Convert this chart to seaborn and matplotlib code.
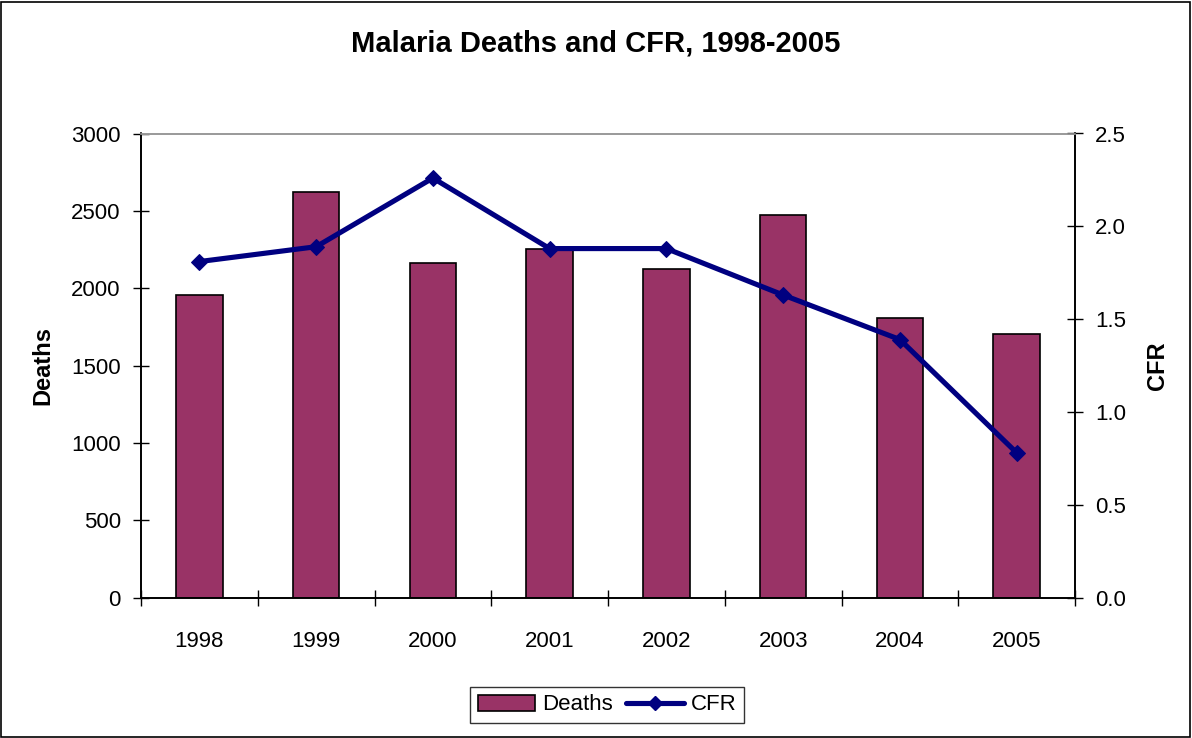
import matplotlib
matplotlib.use("Agg")
import matplotlib.pyplot as plt
import seaborn as sns
import pandas as pd
import numpy as np
from matplotlib.patches import Rectangle, Patch
from matplotlib.lines import Line2D

years = ["1998", "1999", "2000", "2001", "2002", "2003", "2004", "2005"]
deaths = [1955, 2620, 2162, 2252, 2122, 2475, 1806, 1706]
cfr = [1.81, 1.89, 2.26, 1.88, 1.88, 1.63, 1.39, 0.78]
left_ticks = [0, 500, 1000, 1500, 2000, 2500, 3000]
right_ticks = [0.0, 0.5, 1.0, 1.5, 2.0, 2.5]

sns.set_theme(style="white")
plt.rcParams['font.family'] = ['Liberation Sans', 'DejaVu Sans']
plt.rcParams.update({"text.color": "black", "axes.labelcolor": "black",
                     "xtick.color": "black", "ytick.color": "black"})

bar_color = "#993366"
line_color = "#000080"

df = pd.DataFrame({"Year": years, "Deaths": deaths, "CFR": cfr})

fig = plt.figure(figsize=(11.92, 7.38), dpi=100)
ax = fig.add_axes([141/1192, (738-597.5)/738, 934/1192, 464/738])

sns.barplot(data=df, x="Year", y="Deaths", ax=ax, color=bar_color, saturation=1,
            width=0.4, edgecolor="black", linewidth=1.2, zorder=2)

ax2 = ax.twinx()
sns.lineplot(x=np.arange(len(years)), y=df["CFR"], ax=ax2, color=line_color, linewidth=3.7,
             marker="D", markersize=8.5, markeredgecolor=line_color, sort=False, zorder=3)

ax.set_xlim(-0.5, len(years) - 0.5)
ax.set_ylim(0, 3000)
ax2.set_ylim(0, 2.5)

ax.set_xticks(np.arange(-0.5, len(years), 1))
ax.set_xticklabels([])
ax.set_xticks(np.arange(len(years)), minor=True)
ax.set_xticklabels(years, minor=True, fontsize=16, color="black")
ax.tick_params(axis="x", which="major", direction="inout", length=12, width=1, color="black", bottom=True)
ax.tick_params(axis="x", which="minor", length=0, pad=24, bottom=True, labelcolor="black")

ax.set_yticks(left_ticks)
ax.set_yticklabels([str(t) for t in left_ticks], fontsize=16, color="black")
ax.tick_params(axis="y", direction="inout", length=11, width=1, color="black", pad=9, left=True)

ax2.set_yticks(right_ticks)
ax2.set_yticklabels([f"{t:.1f}" for t in right_ticks], fontsize=16, color="black")
ax2.tick_params(axis="y", direction="inout", length=11, width=1, color="black", pad=9, right=True)

ax.set_xlabel("")
ax.set_ylabel("Deaths", fontsize=17, fontweight="bold", labelpad=12, color="black")
ax2.set_ylabel("CFR", fontsize=17, fontweight="bold", labelpad=14, color="black")

for a in (ax, ax2):
    for s in a.spines.values():
        s.set_visible(True)
        s.set_color("black")
        s.set_linewidth(1.2)
    a.spines["top"].set_color("#999999")
    a.grid(False)

ax.set_facecolor("none")
fig.patch.set_facecolor("white")

fig.text(0.5, 1 - 43/738, "Malaria Deaths and CFR, 1998-2005", ha="center", va="center",
         fontsize=21, fontweight="bold", color="black")

handles = [Patch(facecolor=bar_color, edgecolor="black", linewidth=1.2),
           Line2D([0], [0], color=line_color, linewidth=3.7, marker="D", markersize=7)]
leg = fig.legend(handles, ["Deaths", "CFR"], loc="center", bbox_to_anchor=(607/1192, 1 - 705/738),
                 ncol=2, fontsize=16, frameon=True, fancybox=False, edgecolor="black",
                 handlelength=2.6, columnspacing=0.6, handletextpad=0.3, borderpad=0.35,
                 borderaxespad=0)
leg.get_frame().set_linewidth(1.0)
for t in leg.get_texts():
    t.set_color("black")

fig.add_artist(Rectangle((1/1192, 1/738), 1189/1192, 735/738, transform=fig.transFigure,
                         fill=False, edgecolor="black", linewidth=1.2))

fig.savefig("out.png", dpi=100)
